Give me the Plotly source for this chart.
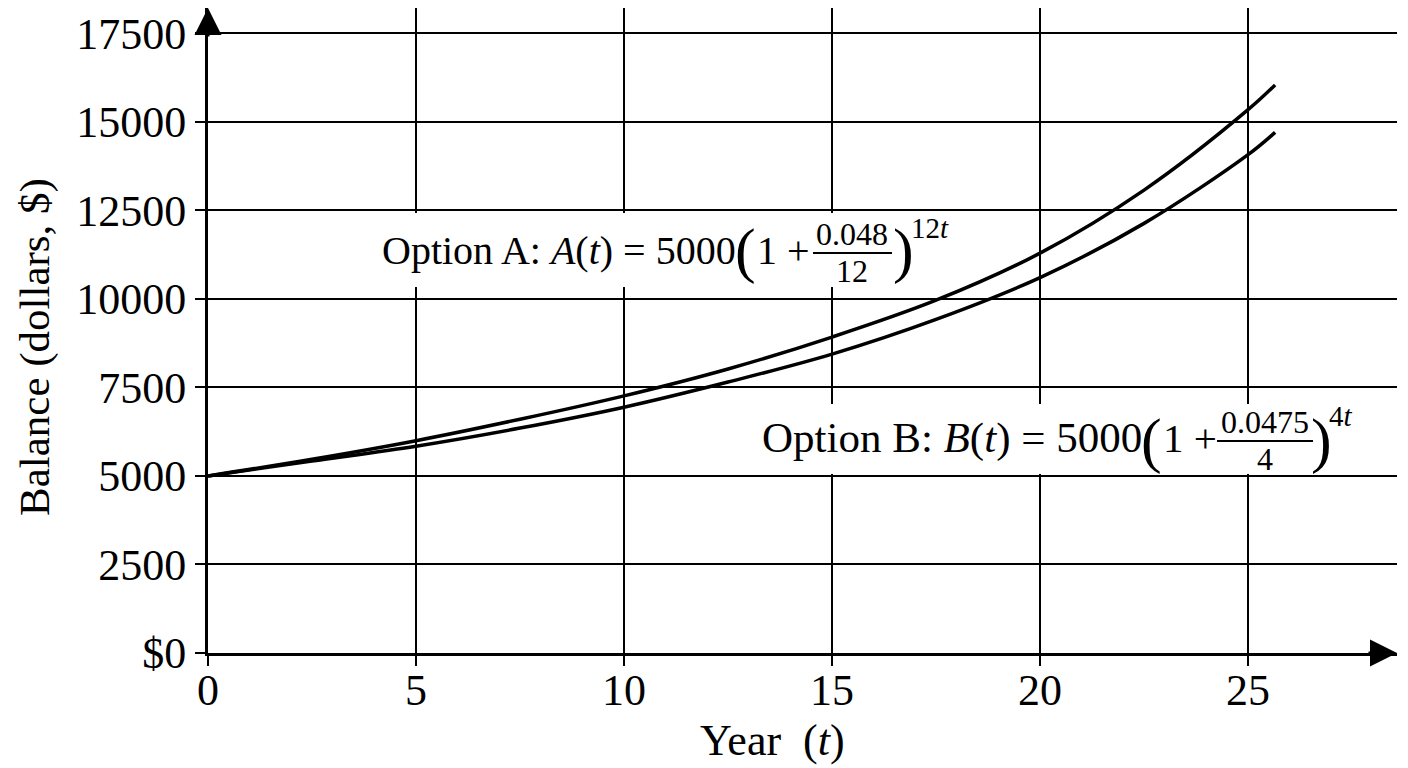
import plotly.graph_objects as go

# values
years = [0, 2.5, 5, 7.5, 10, 12.5, 15, 17.5, 20, 22.5, 25, 25.65]
option_a = [5000, 5470, 5995, 6600, 7260, 8020, 8920, 9960, 11290, 13070, 15340, 16040]
option_b = [5000, 5420, 5840, 6350, 6940, 7650, 8440, 9420, 10600, 12130, 14070, 14700]

x_ticks = [0, 5, 10, 15, 20, 25]
y_ticks = [0, 2500, 5000, 7500, 10000, 12500, 15000, 17500]
y_ticktext = ['$0', '2500', '5000', '7500', '10000', '12500', '15000', '17500']

# the page body adds an 8px offset, so the figure is a bit smaller than the window
OFF = 8
FW, FH = 1400, 760
L, T, PW, PH = 200, 0, 1189, 645
X_MAX = 28.58
Y_MAX = 18211
FONT = 'Liberation Serif'


# page pixel -> data coordinates
def xd(px):
    return (px - OFF - L) / PW * X_MAX


def yd(py):
    return (T + PH - (py - OFF)) / PH * Y_MAX


def txt(px, py, text, size, xanchor='center'):
    return dict(x=xd(px), y=yd(py), xref='x', yref='y', text=text, showarrow=False, borderpad=0,
                xanchor=xanchor, yanchor='middle', font=dict(family=FONT, size=size, color='black'))


fig = go.Figure()
for vals in (option_a, option_b):
    fig.add_trace(go.Scatter(x=years, y=vals, mode='lines', line=dict(color='black', width=3.5, shape='spline'),
                             showlegend=False, hoverinfo='skip'))

annotations = [
    # option A label
    txt(737, 250, 'Option A: <i>A</i>(<i>t</i>) = 5000', 40, 'right'),
    txt(745, 250, '(', 62),
    txt(783, 250, '1 +', 40),
    txt(852, 234, '0.048', 32),
    txt(852, 271, '12', 32),
    txt(903, 250, ')', 62),
    txt(910, 228, '12<i>t</i>', 29, 'left'),
    # option B label
    txt(1143, 438, 'Option B: <i>B</i>(<i>t</i>) = 5000', 43, 'right'),
    txt(1151, 440, '(', 62),
    txt(1190, 438, '1 +', 41),
    txt(1265, 422, '0.0475', 32),
    txt(1265, 459, '4', 32),
    txt(1321, 440, ')', 62),
    txt(1328, 416, '4<i>t</i>', 29, 'left'),
    # axis titles
    dict(x=(35 - OFF - L) / PW, y=(T + PH - (347 - OFF)) / PH, xref='paper', yref='paper',
         text='Balance (dollars, $)', textangle=-90, showarrow=False, xanchor='center', yanchor='middle',
         font=dict(family=FONT, size=43, color='black')),
    dict(x=(772 - OFF - L) / PW, y=(T + PH - (740 - OFF)) / PH, xref='paper', yref='paper',
         text='Year\u00a0 (<i>t</i>)', showarrow=False, xanchor='center', yanchor='middle',
         font=dict(family=FONT, size=44, color='black')),
    # axis arrows
    dict(x=X_MAX, y=0, xref='x', yref='y', ax=-30, ay=0, text='', showarrow=True,
         arrowhead=2, arrowsize=1.8, arrowwidth=3, arrowcolor='black'),
    dict(x=0, y=Y_MAX, xref='x', yref='y', ax=0, ay=30, text='', showarrow=True,
         arrowhead=2, arrowsize=1.8, arrowwidth=3, arrowcolor='black'),
]

shapes = [
    dict(type='rect', x0=xd(372), x1=xd(975), y0=yd(287), y1=yd(213), xref='x', yref='y',
         fillcolor='white', line=dict(width=0), layer='between'),
    dict(type='rect', x0=xd(740), x1=xd(1370), y0=yd(474), y1=yd(404), xref='x', yref='y',
         fillcolor='white', line=dict(width=0), layer='between'),
    dict(type='line', x0=xd(813), x1=xd(892), y0=yd(253), y1=yd(253), xref='x', yref='y',
         line=dict(color='black', width=2)),
    dict(type='line', x0=xd(1217), x1=xd(1313), y0=yd(441), y1=yd(441), xref='x', yref='y',
         line=dict(color='black', width=2)),
]

fig.update_layout(
    width=FW, height=FH,
    margin=dict(l=L, r=FW - L - PW, t=T, b=FH - T - PH),
    paper_bgcolor='white', plot_bgcolor='white',
    font=dict(family=FONT, size=44, color='black'),
    annotations=annotations,
    shapes=shapes,
    xaxis=dict(range=[0, X_MAX], tickvals=x_ticks, showgrid=True, gridcolor='black', gridwidth=1.5,
               zeroline=False, showline=True, linecolor='black', linewidth=3, automargin=False,
               ticks='outside', ticklen=10, tickwidth=2, tickcolor='black', ticklabelstandoff=-14),
    yaxis=dict(range=[0, Y_MAX], tickvals=y_ticks, ticktext=y_ticktext, showgrid=True, gridcolor='black',
               gridwidth=1.5, zeroline=False, showline=True, linecolor='black', linewidth=3, automargin=False,
               ticks='outside', ticklen=10, tickwidth=2, tickcolor='black', ticklabelstandoff=0),
)

fig.write_html('out.html')
